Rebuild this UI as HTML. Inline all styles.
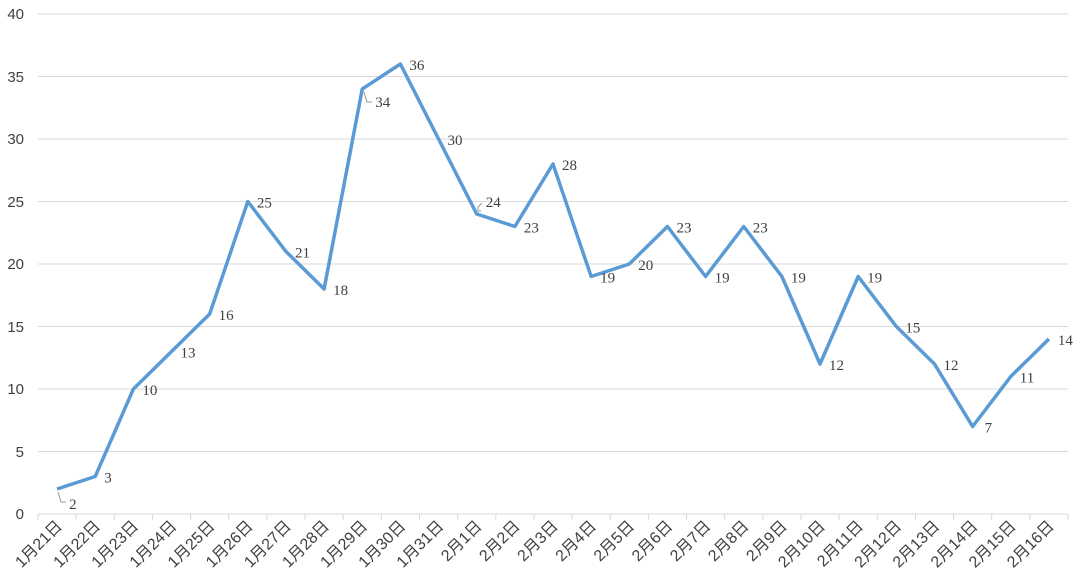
<!DOCTYPE html>
<html><head><meta charset="utf-8"><style>body{margin:0;background:#fff}svg{display:block}</style></head>
<body>
<svg width="1080" height="587" xmlns="http://www.w3.org/2000/svg">
<g stroke="#d9d9d9" stroke-width="1">
<line x1="38" x2="1068" y1="14" y2="14"/><line x1="38" x2="1068" y1="76.5" y2="76.5"/><line x1="38" x2="1068" y1="139" y2="139"/><line x1="38" x2="1068" y1="201.5" y2="201.5"/><line x1="38" x2="1068" y1="264" y2="264"/><line x1="38" x2="1068" y1="326.5" y2="326.5"/><line x1="38" x2="1068" y1="389" y2="389"/><line x1="38" x2="1068" y1="451.5" y2="451.5"/><line x1="38" x2="1068" y1="514" y2="514"/>
</g>
<g id="ticks" stroke="#d9d9d9"></g>
<g font-family="Liberation Sans, sans-serif" font-size="15" fill="#404040" text-anchor="end">
<text x="24" y="19">40</text><text x="24" y="82">35</text><text x="24" y="144">30</text><text x="24" y="207">25</text><text x="24" y="269">20</text><text x="24" y="332">15</text><text x="24" y="394">10</text><text x="24" y="457">5</text><text x="24" y="519">0</text>
</g>
<g id="xl" font-family="Liberation Sans, 'Noto Sans CJK SC', sans-serif" font-size="16" fill="#404040" text-anchor="end"></g>
<polyline id="ln" fill="none" stroke="#5b9bd5" stroke-width="3.5" stroke-linejoin="round"/>
<g id="dl" font-family="Liberation Serif, serif" font-size="15" fill="#404040"></g>
<g stroke="#999" fill="none" stroke-width="1">
<polyline points="58,492 61,502 66,502"/>
<polyline points="364,92 367,102 372,102"/>
<polyline points="481,211 478,211 478,207 482,203"/>
</g>
</svg>
<script>
var d=[2,3,10,13,16,25,21,18,34,36,30,24,23,28,19,20,23,19,23,19,12,19,15,12,7,11,14];
var w=(1068-38)/27,pts=[],t='',x='',l='';
for(var i=0;i<=27;i++){var tx=38+i*w;t+='<line x1="'+tx+'" x2="'+tx+'" y1="514" y2="520"/>';}
for(var i=0;i<27;i++){var px=38+w/2+i*w,py=514-d[i]*12.5;pts.push(px+','+py);
var lab=(i<11?'1月'+(21+i):'2月'+(i-10))+'日';
x+='<text transform="translate('+(px+6)+',527) rotate(-45)">'+lab+'</text>';
var lx=px+9,ly=py+6;
if(i==0){lx=px+12;ly=py+20;}
if(i==8){lx=px+13;ly=py+18;}
if(i==11){lx=px+9;ly=py-7;}
if(i==24){lx=px+12;ly=py+6;}
l+='<text x="'+lx+'" y="'+ly+'">'+d[i]+'</text>';}
document.getElementById('ticks').innerHTML=t;document.getElementById('xl').innerHTML=x;
document.getElementById('dl').innerHTML=l;document.getElementById('ln').setAttribute('points',pts.join(' '));
</script>
</body></html>
